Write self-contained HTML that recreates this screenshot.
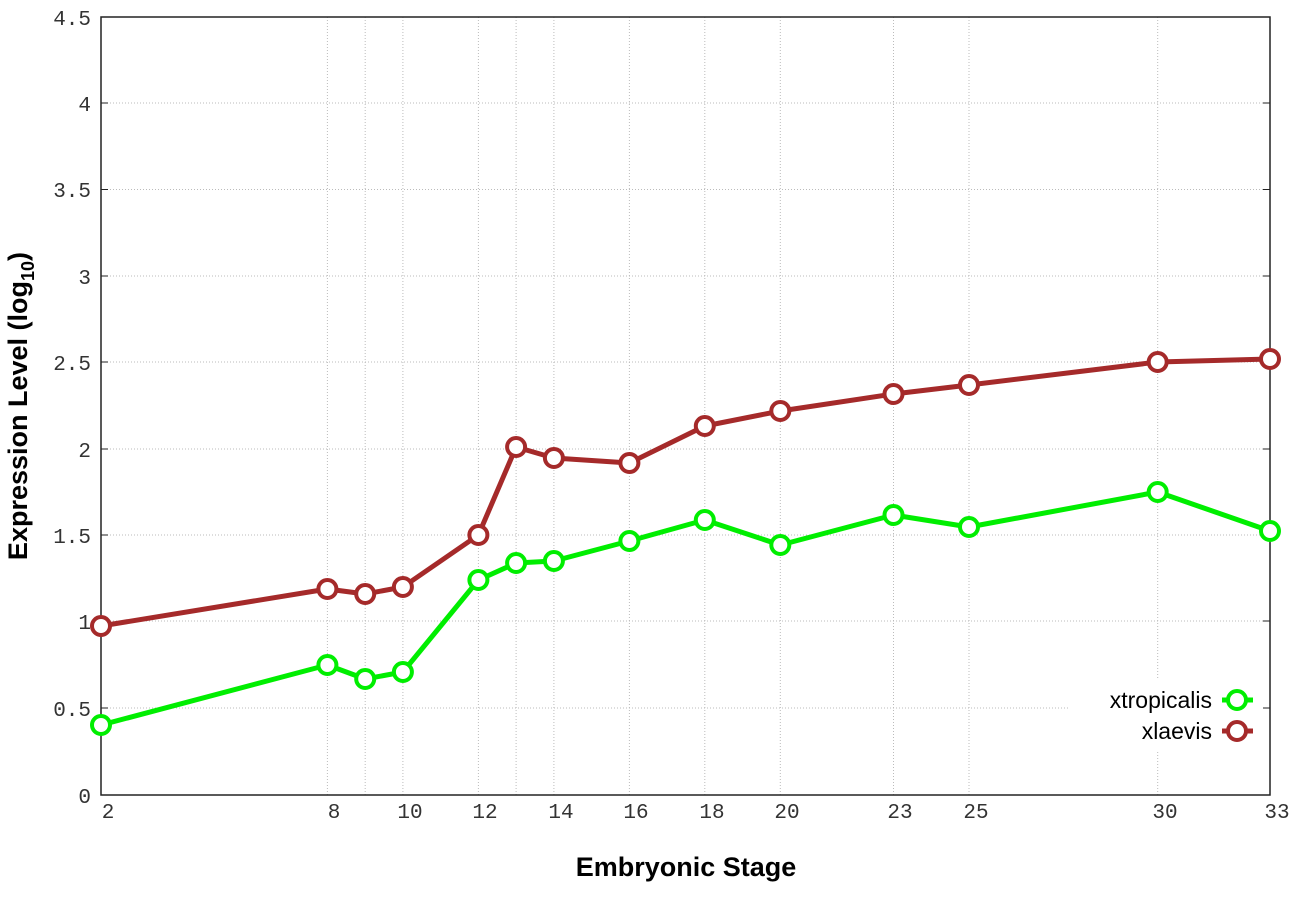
<!DOCTYPE html>
<html><head><meta charset="utf-8"><style>body{margin:0;background:#fff}svg{display:block}</style></head><body>
<svg width="1296" height="907" xmlns="http://www.w3.org/2000/svg">
<rect width="1296" height="907" fill="#fff"/>
<g stroke="#bbb" stroke-width="1" stroke-dasharray="1,2">
<line x1="101" x2="1270" y1="103" y2="103"/><line x1="101" x2="1270" y1="189.5" y2="189.5"/><line x1="101" x2="1270" y1="276" y2="276"/><line x1="101" x2="1270" y1="362" y2="362"/><line x1="101" x2="1270" y1="449" y2="449"/><line x1="101" x2="1270" y1="535" y2="535"/><line x1="101" x2="1270" y1="621" y2="621"/><line x1="101" x2="1270" y1="708" y2="708"/>
<line x1="327.4" x2="327.4" y1="17" y2="795"/><line x1="365.2" x2="365.2" y1="17" y2="795"/><line x1="402.9" x2="402.9" y1="17" y2="795"/><line x1="478.4" x2="478.4" y1="17" y2="795"/><line x1="516.1" x2="516.1" y1="17" y2="795"/><line x1="553.9" x2="553.9" y1="17" y2="795"/><line x1="629.4" x2="629.4" y1="17" y2="795"/><line x1="704.8" x2="704.8" y1="17" y2="795"/><line x1="780.3" x2="780.3" y1="17" y2="795"/><line x1="893.5" x2="893.5" y1="17" y2="795"/><line x1="969" x2="969" y1="17" y2="795"/><line x1="1157.7" x2="1157.7" y1="17" y2="795"/>
</g>
<rect x="1070" y="680" width="195" height="72" fill="#fff"/>
<rect x="101" y="17" width="1169" height="778" fill="none" stroke="#222" stroke-width="1.5"/>
<g stroke="#222" stroke-width="1">
<line x1="101" x2="108" y1="103" y2="103"/><line x1="101" x2="108" y1="189.5" y2="189.5"/><line x1="101" x2="108" y1="276" y2="276"/><line x1="101" x2="108" y1="362" y2="362"/><line x1="101" x2="108" y1="449" y2="449"/><line x1="101" x2="108" y1="535" y2="535"/><line x1="101" x2="108" y1="621" y2="621"/><line x1="101" x2="108" y1="708" y2="708"/>
<line x1="1263" x2="1270" y1="103" y2="103"/><line x1="1263" x2="1270" y1="189.5" y2="189.5"/><line x1="1263" x2="1270" y1="276" y2="276"/><line x1="1263" x2="1270" y1="362" y2="362"/><line x1="1263" x2="1270" y1="449" y2="449"/><line x1="1263" x2="1270" y1="535" y2="535"/><line x1="1263" x2="1270" y1="621" y2="621"/><line x1="1263" x2="1270" y1="708" y2="708"/>
</g>
<g font-family="Liberation Mono, monospace" font-size="21" fill="#333" text-anchor="end">
<text x="91" y="25">4.5</text><text x="91" y="111">4</text><text x="91" y="197">3.5</text><text x="91" y="284">3</text><text x="91" y="370">2.5</text><text x="91" y="457">2</text><text x="91" y="543">1.5</text><text x="91" y="629">1</text><text x="91" y="716">0.5</text><text x="91" y="803">0</text>
</g>
<g font-family="Liberation Mono, monospace" font-size="21" fill="#333" text-anchor="middle">
<text x="108" y="818">2</text><text x="334" y="818">8</text><text x="410" y="818">10</text><text x="485" y="818">12</text><text x="561" y="818">14</text><text x="636" y="818">16</text><text x="712" y="818">18</text><text x="787" y="818">20</text><text x="900" y="818">23</text><text x="976" y="818">25</text><text x="1165" y="818">30</text><text x="1277" y="818">33</text>
</g>
<text x="686" y="876" font-family="Liberation Sans, sans-serif" font-weight="bold" font-size="27" text-anchor="middle" fill="#000">Embryonic Stage</text>
<text transform="translate(27,406) rotate(-90)" font-family="Liberation Sans, sans-serif" font-weight="bold" font-size="27" text-anchor="middle" fill="#000">Expression Level (log<tspan font-size="18" dy="7">10</tspan><tspan dy="-7">)</tspan></text>
<g fill="none" stroke-width="5" stroke-linejoin="round">
<polyline stroke="#a52a2a" points="101,626 327.4,589 365.2,594 402.9,587 478.4,535 516.1,447 553.9,458 629.4,463 704.8,426 780.3,411 893.5,394 969,385 1157.7,362 1270,359"/>
<polyline stroke="#00ee00" points="101,725 327.4,665 365.2,679 402.9,672 478.4,580 516.1,563 553.9,561 629.4,541 704.8,520 780.3,545 893.5,515 969,527 1157.7,492 1270,531"/>
</g>
<g fill="#fff" stroke="#a52a2a" stroke-width="4">
<circle cx="101" cy="626" r="9"/><circle cx="327.4" cy="589" r="9"/><circle cx="365.2" cy="594" r="9"/><circle cx="402.9" cy="587" r="9"/><circle cx="478.4" cy="535" r="9"/><circle cx="516.1" cy="447" r="9"/><circle cx="553.9" cy="458" r="9"/><circle cx="629.4" cy="463" r="9"/><circle cx="704.8" cy="426" r="9"/><circle cx="780.3" cy="411" r="9"/><circle cx="893.5" cy="394" r="9"/><circle cx="969" cy="385" r="9"/><circle cx="1157.7" cy="362" r="9"/><circle cx="1270" cy="359" r="9"/>
</g>
<g fill="#fff" stroke="#00ee00" stroke-width="4">
<circle cx="101" cy="725" r="9"/><circle cx="327.4" cy="665" r="9"/><circle cx="365.2" cy="679" r="9"/><circle cx="402.9" cy="672" r="9"/><circle cx="478.4" cy="580" r="9"/><circle cx="516.1" cy="563" r="9"/><circle cx="553.9" cy="561" r="9"/><circle cx="629.4" cy="541" r="9"/><circle cx="704.8" cy="520" r="9"/><circle cx="780.3" cy="545" r="9"/><circle cx="893.5" cy="515" r="9"/><circle cx="969" cy="527" r="9"/><circle cx="1157.7" cy="492" r="9"/><circle cx="1270" cy="531" r="9"/>
</g>
<g font-family="Liberation Sans, sans-serif" font-size="23" fill="#000" text-anchor="end">
<text x="1212" y="708">xtropicalis</text><text x="1212" y="739">xlaevis</text>
</g>
<line x1="1222" x2="1253" y1="700" y2="700" stroke="#00ee00" stroke-width="5"/>
<circle cx="1237" cy="700" r="9" fill="#fff" stroke="#00ee00" stroke-width="4"/>
<line x1="1222" x2="1253" y1="731" y2="731" stroke="#a52a2a" stroke-width="5"/>
<circle cx="1237" cy="731" r="9" fill="#fff" stroke="#a52a2a" stroke-width="4"/>
</svg>
</body></html>
